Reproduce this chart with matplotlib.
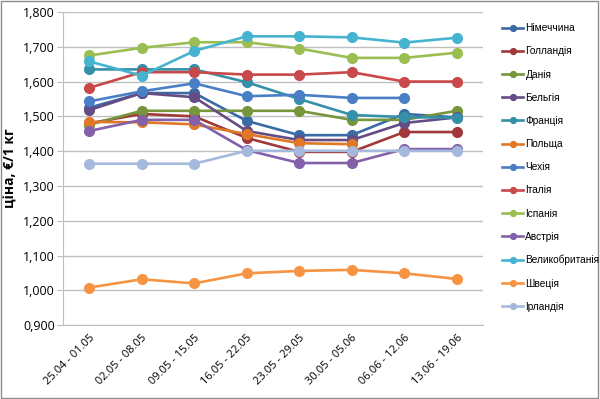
import matplotlib
matplotlib.use('Agg')
import matplotlib.pyplot as plt
from matplotlib.patches import Rectangle
from matplotlib.ticker import FuncFormatter

plt.rcParams['font.family'] = ['Open Sans', 'DejaVu Sans']

weeks = ['25.04 - 01.05', '02.05 - 08.05', '09.05 - 15.05', '16.05 - 22.05',
         '23.05 - 29.05', '30.05 - 05.06', '06.06 - 12.06', '13.06 - 19.06']

germany = [1.525, 1.567, 1.567, 1.487, 1.446, 1.446, 1.507, 1.497]
netherlands = [1.480, 1.507, 1.500, 1.438, 1.398, 1.398, 1.455, 1.455]
denmark = [1.476, 1.516, 1.516, 1.516, 1.516, 1.490, 1.490, 1.516]
belgium = [1.518, 1.567, 1.555, 1.458, 1.432, 1.432, 1.481, 1.497]
france = [1.635, 1.635, 1.635, 1.598, 1.550, 1.504, 1.498, 1.496]
poland = [1.484, 1.483, 1.477, 1.449, 1.423, 1.420, None, None]
czechia = [1.543, 1.572, 1.595, 1.558, 1.562, 1.553, 1.553, None]
italy = [1.582, 1.627, 1.627, 1.620, 1.620, 1.627, 1.600, 1.600]
spain = [1.675, 1.697, 1.713, 1.713, 1.695, 1.668, 1.668, 1.683]
austria = [1.458, 1.490, 1.490, 1.403, 1.366, 1.366, 1.406, 1.406]
uk = [1.658, 1.617, 1.688, 1.730, 1.730, 1.727, 1.712, 1.726]
sweden = [1.008, 1.032, 1.020, 1.049, 1.056, 1.059, 1.049, 1.033]
ireland = [1.364, 1.364, 1.364, 1.401, 1.401, 1.401, 1.401, 1.401]

series = [
    ('Німеччина', germany, '#3A6BA5'),
    ('Голландія', netherlands, '#A0393A'),
    ('Данія', denmark, '#77953A'),
    ('Бельгія', belgium, '#654C84'),
    ('Франція', france, '#3590A8'),
    ('Польща', poland, '#E07826'),
    ('Чехія', czechia, '#4A7FC6'),
    ('Італія', italy, '#C9484A'),
    ('Іспанія', spain, '#9BBE52'),
    ('Австрія', austria, '#8261AA'),
    ('Великобританія', uk, '#46B4D0'),
    ('Швеція', sweden, '#F79444'),
    ('Ірландія', ireland, '#A5B9DD'),
]

fig = plt.figure(figsize=(6, 3.99), dpi=100)
ax = fig.add_axes([0.105, 0.185, 0.70, 0.785])

x = list(range(len(weeks)))
for name, vals, color in series:
    xs = [i for i, v in zip(x, vals) if v is not None]
    ys = [v for v in vals if v is not None]
    ax.plot(xs, ys, color=color, lw=1.9, marker='o', ms=7, label=name)

ax.set_ylim(0.9, 1.8)
ax.set_xlim(-0.5, len(weeks) - 0.5)
ax.set_yticks([0.9 + 0.1 * i for i in range(10)])
ax.yaxis.set_major_formatter(FuncFormatter(lambda v, p: f'{v:.3f}'.replace('.', ',')))
ax.set_xticks(x)
ax.set_xticklabels(weeks, rotation=45, ha='right', rotation_mode='anchor', fontsize=8)
ax.tick_params(axis='y', labelsize=9, length=4, color='#BFBFBF', pad=2)
ax.tick_params(axis='x', length=0, pad=5)
ax.grid(axis='y', color='#BFBFBF', lw=1)
ax.set_axisbelow(True)
for s in ['top', 'right']:
    ax.spines[s].set_visible(False)
ax.spines['left'].set_color('#BFBFBF')
ax.spines['bottom'].set_color('#BFBFBF')

ax.set_ylabel('ціна, €/1 кг', fontsize=10, fontweight='bold', labelpad=4)

fig.legend(loc='upper left', bbox_to_anchor=(0.83, 0.952), frameon=False,
           prop={'family': ['Liberation Sans', 'DejaVu Sans'], 'size': 7.3},
           labelspacing=1.3, handlelength=2.1, handletextpad=0.2,
           markerscale=0.6, borderaxespad=0)

fig.add_artist(Rectangle((0.002, 0.003), 0.995, 0.994, transform=fig.transFigure,
                         fill=False, ec='#8C8C8C', lw=1))

fig.savefig('out.png', dpi=100)
